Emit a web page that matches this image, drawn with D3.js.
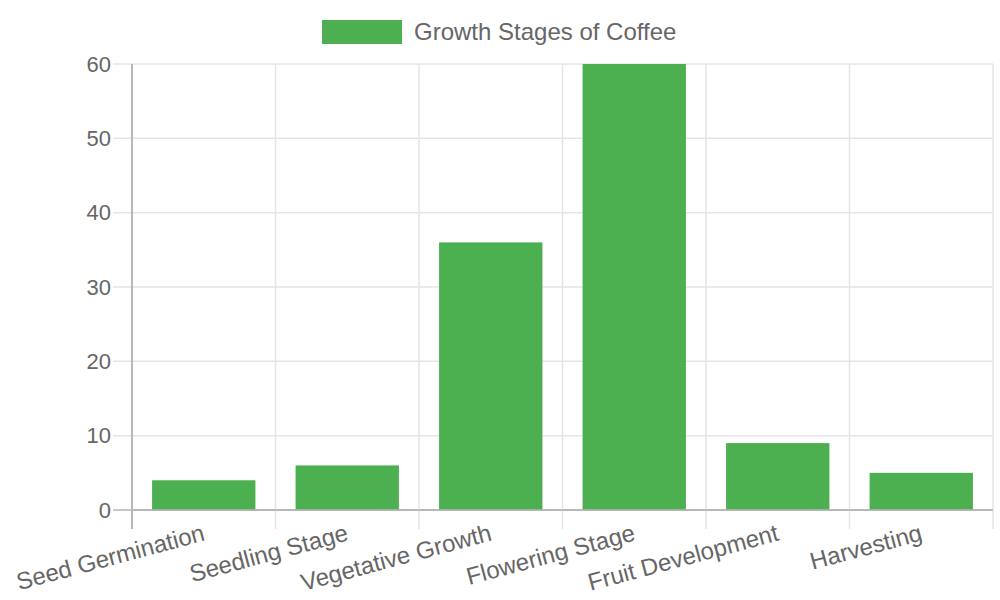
<!DOCTYPE html>
<html>
<head>
<meta charset="utf-8">
<script src="https://cdn.jsdelivr.net/npm/d3@7"></script>
<style>
  body { margin: 0; background: #fff; }
  svg text { font-family: "Liberation Sans", Arial, sans-serif; fill: #666; }
</style>
</head>
<body>
<svg id="chart" width="1000" height="600"></svg>
<script>
// chart data
var stages = ['Seed Germination', 'Seedling Stage', 'Vegetative Growth', 'Flowering Stage', 'Fruit Development', 'Harvesting'];
var durations = [4, 6, 36, 60, 9, 5];
var yTicks = [0, 10, 20, 30, 40, 50, 60];
var seriesName = 'Growth Stages of Coffee';

var barColor = '#4caf50';
var gridColor = '#e5e5e5';
var axisColor = '#b3b3b3';

var plotLeft = 132, plotRight = 993, plotTop = 64, plotBottom = 510;
var tickLen = 19;

var svg = d3.select('#chart');

var x = d3.scaleBand().domain(stages).range([plotLeft, plotRight]).paddingInner(0).paddingOuter(0);
var y = d3.scaleLinear().domain([0, 60]).range([plotBottom, plotTop]);

// horizontal grid
svg.append('g').selectAll('line')
  .data(yTicks)
  .enter().append('line')
  .attr('x1', plotLeft - tickLen).attr('x2', plotRight)
  .attr('y1', function(d) { return y(d); })
  .attr('y2', function(d) { return y(d); })
  .attr('stroke', function(d) { return d == 0 ? axisColor : gridColor; })
  .attr('stroke-width', 1.5);

// vertical grid at category edges
var edges = stages.map(function(s) { return x(s); }).concat([plotRight]);
svg.append('g').selectAll('line')
  .data(edges)
  .enter().append('line')
  .attr('x1', function(d) { return d; }).attr('x2', function(d) { return d; })
  .attr('y1', plotTop).attr('y2', plotBottom + tickLen)
  .attr('stroke', function(d, i) { return i == 0 ? axisColor : gridColor; })
  .attr('stroke-width', 1.5);

// bars
var bw = x.bandwidth() * 0.72;
svg.append('g').selectAll('rect')
  .data(durations)
  .enter().append('rect')
  .attr('x', function(d, i) { return x(stages[i]) + (x.bandwidth() - bw) / 2; })
  .attr('y', function(d) { return y(d); })
  .attr('width', bw)
  .attr('height', function(d) { return plotBottom - y(d); })
  .attr('fill', barColor);

// redraw axis lines on top
svg.append('line').attr('x1', plotLeft).attr('x2', plotRight).attr('y1', plotBottom).attr('y2', plotBottom)
  .attr('stroke', axisColor).attr('stroke-width', 1.5);
svg.append('line').attr('x1', plotLeft).attr('x2', plotLeft).attr('y1', plotTop).attr('y2', plotBottom + tickLen)
  .attr('stroke', axisColor).attr('stroke-width', 1.5);

// y tick labels
svg.append('g').selectAll('text')
  .data(yTicks)
  .enter().append('text')
  .attr('x', plotLeft - 21)
  .attr('y', function(d) { return y(d); })
  .attr('dy', '0.35em')
  .attr('text-anchor', 'end')
  .style('font-size', '22px')
  .text(function(d) { return d; });

// x tick labels, rotated
svg.append('g').selectAll('text')
  .data(stages)
  .enter().append('text')
  .attr('transform', function(d) {
    return 'translate(' + (x(d) + x.bandwidth() / 2) + ',' + (plotBottom + 22) + ') rotate(-15)';
  })
  .attr('dy', '0.35em')
  .attr('text-anchor', 'end')
  .style('font-size', '24px')
  .text(function(d) { return d; });

// legend
var lg = svg.append('g');
lg.append('rect').attr('x', 322).attr('y', 20).attr('width', 80).attr('height', 24).attr('fill', barColor);
lg.append('text').attr('x', 414).attr('y', 32).attr('dy', '0.35em')
  .style('font-size', '24px').text(seriesName);
</script>
</body>
</html>
